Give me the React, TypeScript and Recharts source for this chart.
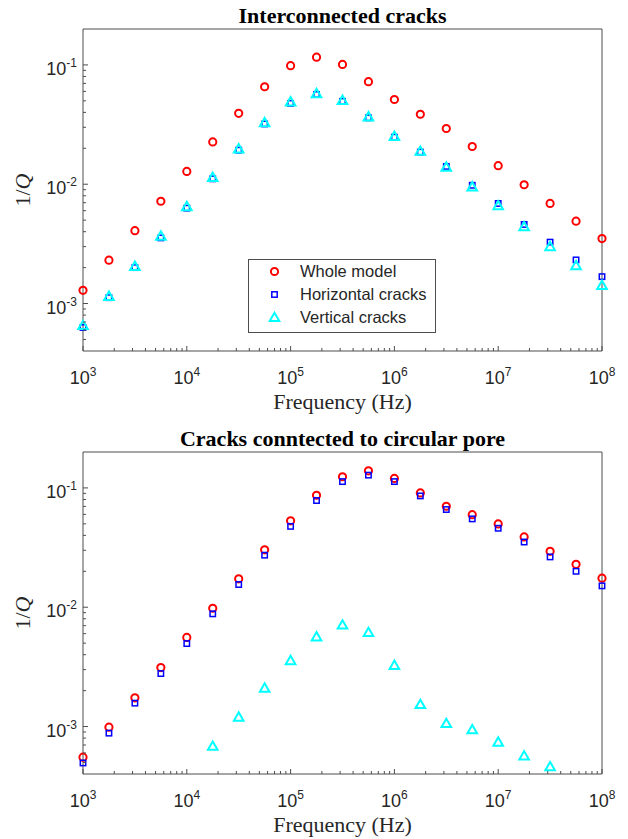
import React from 'react';
import { ScatterChart, Scatter, XAxis, YAxis, Legend } from 'recharts';

// frequency samples (Hz), quarter-decade steps
const FREQ = [
  1e3, 1.778e3, 3.162e3, 5.623e3, 1e4, 1.778e4, 3.162e4, 5.623e4, 1e5, 1.778e5, 3.162e5,
  5.623e5, 1e6, 1.778e6, 3.162e6, 5.623e6, 1e7, 1.778e7, 3.162e7, 5.623e7, 1e8,
];

// Interconnected cracks
const TOP_WHOLE = [
  1.29e-3, 2.31e-3, 4.08e-3, 7.2e-3, 1.28e-2, 2.26e-2, 3.93e-2, 6.56e-2, 0.0986, 0.116, 0.101,
  0.0723, 0.0513, 0.0386, 0.0293, 0.0207, 0.0143, 0.0099, 0.0069, 0.0049, 0.0035,
];
const TOP_HORIZ = [
  6.3e-4, 1.12e-3, 2.0e-3, 3.55e-3, 6.3e-3, 1.11e-2, 1.93e-2, 3.2e-2, 0.0476, 0.0565, 0.0495,
  0.036, 0.0248, 0.0186, 0.0141, 0.0098, 0.0069, 0.0046, 0.00327, 0.00232, 0.00168,
];
const TOP_VERT = [
  6.55e-4, 1.15e-3, 2.05e-3, 3.67e-3, 6.5e-3, 1.14e-2, 1.98e-2, 3.28e-2, 0.049, 0.0575, 0.0505,
  0.0367, 0.0252, 0.0189, 0.0139, 0.0095, 0.0066, 0.0044, 0.003, 0.00208, 0.00142,
];

// Cracks connected to circular pore
const BOT_WHOLE = [
  5.53e-4, 9.87e-4, 1.74e-3, 3.12e-3, 5.58e-3, 9.8e-3, 1.73e-2, 3.03e-2, 5.3e-2, 0.0868, 0.124,
  0.139, 0.12, 0.0908, 0.0702, 0.0597, 0.0499, 0.0388, 0.0294, 0.0229, 0.0175,
];
const BOT_HORIZ = [
  4.95e-4, 8.8e-4, 1.57e-3, 2.78e-3, 4.96e-3, 8.8e-3, 1.55e-2, 2.73e-2, 4.76e-2, 0.0784, 0.113,
  0.128, 0.113, 0.0857, 0.0659, 0.055, 0.0459, 0.0352, 0.0264, 0.02, 0.0151,
];
const BOT_VERT = [
  null, null, null, null, null, 6.84e-4, 1.2e-3, 2.1e-3, 3.57e-3, 5.64e-3, 7.1e-3,
  6.14e-3, 3.26e-3, 1.53e-3, 1.06e-3, 9.4e-4, 7.4e-4, 5.67e-4, 4.6e-4, null, null,
];

const X_TICKS = [
  1e3, 2e3, 3e3, 4e3, 5e3, 6e3, 7e3, 8e3, 9e3,
  1e4, 2e4, 3e4, 4e4, 5e4, 6e4, 7e4, 8e4, 9e4,
  1e5, 2e5, 3e5, 4e5, 5e5, 6e5, 7e5, 8e5, 9e5,
  1e6, 2e6, 3e6, 4e6, 5e6, 6e6, 7e6, 8e6, 9e6,
  1e7, 2e7, 3e7, 4e7, 5e7, 6e7, 7e7, 8e7, 9e7, 1e8,
];
const Y_TICKS = [
  5e-4, 6e-4, 7e-4, 8e-4, 9e-4,
  1e-3, 2e-3, 3e-3, 4e-3, 5e-3, 6e-3, 7e-3, 8e-3, 9e-3,
  1e-2, 2e-2, 3e-2, 4e-2, 5e-2, 6e-2, 7e-2, 8e-2, 9e-2, 1e-1,
];
const X_DOMAIN = [1e3, 1e8];
const Y_DOMAIN = [4e-4, 0.2];

const SERIES = [
  { name: 'Whole model', kind: 'circle', color: '#ff0000' },
  { name: 'Horizontal cracks', kind: 'square', color: '#0000ff' },
  { name: 'Vertical cracks', kind: 'triangle', color: '#00ffff' },
];

const AXIS = '#4d4d4d';
const TEXT = '#262626';
const SANS = '"Liberation Sans", Arial, sans-serif';
const SERIF = '"Liberation Serif", "Times New Roman", serif';

const toPoints = (vals: (number | null)[]) =>
  FREQ.map((f, i) => ({ f, q: vals[i] })).filter((p) => p.q != null);

const isMajor = (v: number) => {
  const l = Math.log10(v);
  return Math.abs(l - Math.round(l)) < 1e-6;
};

function Marker({ kind, color, cx, cy }: any) {
  if (kind === 'circle') {
    return <circle cx={cx} cy={cy} r={3.6} fill="none" stroke={color} strokeWidth={2} />;
  }
  if (kind === 'square') {
    return <rect x={cx - 2.7} y={cy - 2.7} width={5.4} height={5.4} fill="none" stroke={color} strokeWidth={1.5} />;
  }
  return (
    <polygon
      points={`${cx},${cy - 4.8} ${cx + 4.8},${cy + 3.6} ${cx - 4.8},${cy + 3.6}`}
      fill="none"
      stroke={color}
      strokeWidth={2}
    />
  );
}

const Pow = ({ v }: { v: number }) => (
  <>
    10
    <tspan dy={-8} fontSize={12}>
      {Math.round(Math.log10(v))}
    </tspan>
  </>
);

const BottomTick = ({ x, y, payload }: any) => {
  const major = isMajor(payload.value);
  return (
    <g>
      <line x1={x} x2={x} y1={y} y2={y - (major ? 5 : 3)} stroke={AXIS} />
      {major && (
        <text x={x} y={y + 33} textAnchor="middle" fill={TEXT} fontFamily={SANS} fontSize={18}>
          <Pow v={payload.value} />
        </text>
      )}
    </g>
  );
};

const TopTick = ({ x, y, payload }: any) => (
  <line x1={x} x2={x} y1={y} y2={y + (isMajor(payload.value) ? 5 : 3)} stroke={AXIS} />
);

const LeftTick = ({ x, y, payload }: any) => {
  const major = isMajor(payload.value);
  return (
    <g>
      <line x1={x} x2={x + (major ? 5 : 3)} y1={y} y2={y} stroke={AXIS} />
      {major && (
        <text x={x - 6} y={y + 10} textAnchor="end" fill={TEXT} fontFamily={SANS} fontSize={18}>
          <Pow v={payload.value} />
        </text>
      )}
    </g>
  );
};

const RightTick = ({ x, y, payload }: any) => (
  <line x1={x} x2={x - (isMajor(payload.value) ? 5 : 3)} y1={y} y2={y} stroke={AXIS} />
);

const LegendBox = () => (
  <div
    style={{
      border: `1px solid ${AXIS}`,
      background: '#fff',
      width: 186,
      paddingBottom: 3,
      fontFamily: SANS,
      fontSize: 16.5,
      color: TEXT,
    }}
  >
    {SERIES.map((s) => (
      <div key={s.name} style={{ height: 23, display: 'flex', alignItems: 'center' }}>
        <svg width={51} height={23} style={{ flex: 'none' }}>
          <Marker kind={s.kind} color={s.color} cx={25.5} cy={11.5} />
        </svg>
        <span>{s.name}</span>
      </div>
    ))}
  </div>
);

// axes need a positive size to be drawn; 1px is taken out of the margins
function LogPanel({ title, series, top, height, withLegend }: any) {
  const plotBottom = height - top - 322;
  return (
    <ScatterChart
      width={628}
      height={height}
      margin={{ top: top - 1, right: 25, bottom: plotBottom - 1, left: 82 }}
    >
      <XAxis
        dataKey="f"
        type="number"
        scale="log"
        domain={X_DOMAIN}
        ticks={X_TICKS}
        interval={0}
        height={1}
        tickSize={0}
        tickMargin={0}
        tickLine={false}
        axisLine={{ stroke: AXIS }}
        tick={<BottomTick />}
        label={{
          content: ({ viewBox }: any) => (
            <text
              x={viewBox.x + viewBox.width / 2}
              y={viewBox.y + 58}
              textAnchor="middle"
              fill={TEXT}
              fontFamily={SERIF}
              fontSize={22}
            >
              Frequency (Hz)
            </text>
          ),
        }}
      />
      <XAxis
        xAxisId="top"
        orientation="top"
        type="number"
        scale="log"
        domain={X_DOMAIN}
        ticks={X_TICKS}
        interval={0}
        height={1}
        tickSize={0}
        tickMargin={0}
        tickLine={false}
        axisLine={{ stroke: AXIS }}
        tick={<TopTick />}
        label={{
          content: ({ viewBox }: any) => (
            <text
              x={viewBox.x + viewBox.width / 2}
              y={viewBox.y + viewBox.height - 6}
              textAnchor="middle"
              fill="#000"
              fontFamily={SERIF}
              fontWeight="bold"
              fontSize={22}
            >
              {title}
            </text>
          ),
        }}
      />
      <YAxis
        dataKey="q"
        type="number"
        scale="log"
        domain={Y_DOMAIN}
        ticks={Y_TICKS}
        interval={0}
        width={1}
        tickSize={0}
        tickMargin={0}
        tickLine={false}
        axisLine={{ stroke: AXIS }}
        tick={<LeftTick />}
        label={{
          content: ({ viewBox }: any) => {
            const bx = viewBox.x + viewBox.width - 53;
            const cy = viewBox.y + viewBox.height / 2;
            return (
              <text
                x={bx}
                y={cy}
                transform={`rotate(-90 ${bx} ${cy})`}
                textAnchor="middle"
                fill={TEXT}
                fontFamily={SERIF}
                fontSize={22}
              >
                1/<tspan fontStyle="italic">Q</tspan>
              </text>
            );
          },
        }}
      />
      <YAxis
        yAxisId="right"
        orientation="right"
        type="number"
        scale="log"
        domain={Y_DOMAIN}
        ticks={Y_TICKS}
        interval={0}
        width={1}
        tickSize={0}
        tickMargin={0}
        tickLine={false}
        axisLine={{ stroke: AXIS }}
        tick={<RightTick />}
      />
      {withLegend && (
        <Legend
          layout="vertical"
          align="center"
          verticalAlign="middle"
          wrapperStyle={{ left: 248, top: 259, width: 188 }}
          content={<LegendBox />}
        />
      )}
      {SERIES.map((s, i) => (
        <Scatter
          key={s.name}
          name={s.name}
          data={toPoints(series[i])}
          isAnimationActive={false}
          shape={(p: any) => <Marker kind={s.kind} color={s.color} cx={p.cx} cy={p.cy} />}
        />
      ))}
    </ScatterChart>
  );
}

export default function App() {
  return (
    <div style={{ position: 'absolute', left: 0, top: 0, width: 628, height: 839, background: '#fff' }}>
      <LogPanel
        title="Interconnected cracks"
        series={[TOP_WHOLE, TOP_HORIZ, TOP_VERT]}
        top={29}
        height={420}
        withLegend
      />
      <LogPanel
        title="Cracks conntected to circular pore"
        series={[BOT_WHOLE, BOT_HORIZ, BOT_VERT]}
        top={32}
        height={419}
      />
    </div>
  );
}
